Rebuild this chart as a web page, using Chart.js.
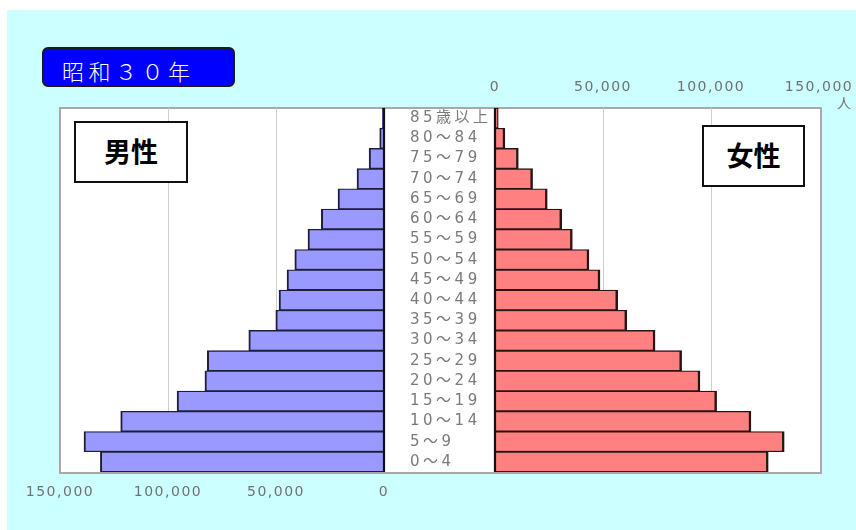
<!DOCTYPE html>
<html lang="ja">
<head>
<meta charset="utf-8">
<script src="https://cdn.jsdelivr.net/npm/chart.js@4/dist/chart.umd.min.js"></script>
<style>
  html, body { margin: 0; padding: 0; background: #ffffff; }
  #stage { position: relative; width: 856px; height: 530px; overflow: hidden; background: #ffffff; }
  #panel { position: absolute; left: 7px; top: 10px; width: 849px; height: 520px; background: #ccffff; }
  #plotbg { position: absolute; left: 59px; top: 107px; width: 763px; height: 367px; box-sizing: border-box;
            background: #ffffff; border: 2px solid #a8a8a8; }
  canvas { position: absolute; }
  #maleWrap { position: absolute; left: 0; top: 100px; width: 400px; height: 412px; }
  #femaleWrap { position: absolute; left: 380px; top: 60px; width: 476px; height: 416px; }
  #title { position: absolute; left: 42px; top: 47px; width: 193px; height: 40px; box-sizing: border-box;
           background: #0000ff; border: 2px solid #1a1a1a; border-radius: 6px; color: #ffffff;
           font: 300 22px "Noto Sans CJK JP", sans-serif; letter-spacing: 4.5px; line-height: 36px;
           padding-left: 18px; padding-top: 3px; }
  .sexbox { position: absolute; box-sizing: border-box; background: #ffffff; border: 2px solid #111111;
            font: 700 27px "Noto Sans CJK JP", sans-serif; color: #000000; text-align: center; }
  #maleBox { left: 74px; top: 121px; width: 114px; height: 62px; line-height: 56px; }
  #femaleBox { left: 702px; top: 125px; width: 103px; height: 62px; line-height: 56px; }
  #unit { position: absolute; left: 837px; top: 92px; font: 14px "Noto Sans CJK JP", sans-serif; color: #777777; }
</style>
</head>
<body>
<div id="stage">
  <div id="panel"></div>
  <div id="plotbg"></div>
  <div id="maleWrap"><canvas id="male" width="400" height="412"></canvas></div>
  <div id="femaleWrap"><canvas id="female" width="476" height="416"></canvas></div>
  <div id="title">昭和３０年</div>
  <div id="maleBox" class="sexbox">男性</div>
  <div id="femaleBox" class="sexbox">女性</div>
  <div id="unit">人</div>
</div>
<script>
// 年齢階級（上から高齢順）
const ageGroups = ['85歳以上', '80～84', '75～79', '70～74', '65～69', '60～64', '55～59', '50～54', '45～49',
                   '40～44', '35～39', '30～34', '25～29', '20～24', '15～19', '10～14', '5～9', '0～4'];
// 男性人口（人）
const malePop = [800, 2000, 6900, 12500, 21300, 29000, 35200, 41300, 44900,
                 48600, 50100, 62600, 81800, 82900, 95800, 121900, 138900, 131300];
// 女性人口（人）
const femalePop = [1500, 4600, 10800, 17400, 24200, 30900, 35800, 43500, 48600,
                   56800, 61000, 74100, 86400, 94900, 102600, 118500, 133900, 126500];
// 目盛り
const axisTicks = [0, 50000, 100000, 150000];
const axisMax = 150000;

const numFont = { family: '"DejaVu Sans", "Noto Sans CJK JP", sans-serif', size: 14 };
const labelFont = { family: '"DejaVu Sans", "Noto Sans CJK JP", sans-serif', size: 15 };

function gridColor(ctx) {
  const v = ctx.tick ? ctx.tick.value : null;
  return (v === 50000 || v === 100000) ? '#cfcfcf' : 'rgba(0,0,0,0)';
}

function fmt(v) { return Number(v).toLocaleString('en-US'); }

// 横軸：目盛りラベルのはみ出しで描画領域を縮めない
function fixXAxis(height) {
  return function (s) {
    s.height = height;
    s.paddingLeft = 0;
    s.paddingRight = 0;
  };
}

// 文字間隔：数値目盛りと年齢ラベルで別々に設定
const spacingPlugin = {
  id: 'spacing',
  beforeLayout(chart) { chart.ctx.letterSpacing = '1.5px'; },
  beforeDraw(chart) { chart.ctx.letterSpacing = '1.5px'; },
  afterDatasetsDraw(chart) {
    // 0 の位置の軸線
    const ctx = chart.ctx, x = chart.scales.x.getPixelForValue(0), a = chart.chartArea;
    ctx.save();
    ctx.strokeStyle = '#111111';
    ctx.lineWidth = 2.2;
    ctx.beginPath();
    ctx.moveTo(x, a.top);
    ctx.lineTo(x, a.bottom);
    ctx.stroke();
    ctx.restore();
    ctx.letterSpacing = '3.5px';
  }
};

new Chart(document.getElementById('male'), {
  type: 'bar',
  data: {
    labels: ageGroups,
    datasets: [{
      data: malePop,
      backgroundColor: '#9999ff',
      borderColor: '#1e1e38',
      borderWidth: { top: 1.3, bottom: 1.3, left: 2, right: 0 },
      borderSkipped: false,
      categoryPercentage: 1,
      barPercentage: 1
    }]
  },
  options: {
    indexAxis: 'y',
    responsive: false,
    animation: false,
    layout: { padding: { left: 60, right: 16, top: 8, bottom: 0 } },
    plugins: { legend: { display: false }, tooltip: { enabled: false } },
    scales: {
      x: {
        position: 'bottom', reverse: true, min: 0, max: axisMax,
        afterBuildTicks(s) { s.ticks = axisTicks.map(v => ({ value: v })); },
        afterFit: fixXAxis(40),
        grid: { color: gridColor, drawTicks: false, lineWidth: 1 },
        border: { display: false },
        ticks: { padding: 12, color: '#707070', font: numFont, maxRotation: 0, callback: v => fmt(v) }
      },
      y: { display: false }
    }
  },
  plugins: [spacingPlugin]
});

new Chart(document.getElementById('female'), {
  type: 'bar',
  data: {
    labels: ageGroups,
    datasets: [{
      data: femalePop,
      backgroundColor: '#ff8080',
      borderColor: '#2a1414',
      borderWidth: { top: 1.3, bottom: 1.3, left: 0, right: 2.5 },
      borderSkipped: false,
      categoryPercentage: 1,
      barPercentage: 1
    }]
  },
  options: {
    indexAxis: 'y',
    responsive: false,
    animation: false,
    layout: { padding: { left: 30, right: 37, top: 0, bottom: 4 } },
    plugins: { legend: { display: false }, tooltip: { enabled: false } },
    scales: {
      x: {
        position: 'top', min: 0, max: axisMax,
        afterBuildTicks(s) { s.ticks = axisTicks.map(v => ({ value: v })); },
        afterFit: fixXAxis(48),
        grid: { color: gridColor, drawTicks: false, lineWidth: 1 },
        border: { display: false },
        ticks: { padding: 12, color: '#707070', font: numFont, maxRotation: 0, callback: v => fmt(v) }
      },
      y: {
        position: 'left',
        afterFit(s) { s.width = 85; s.paddingTop = 0; s.paddingBottom = 0; },
        grid: { display: false, drawTicks: false },
        border: { display: false },
        ticks: { crossAlign: 'far', padding: 0, z: 1, color: '#7a7a7a', font: labelFont, autoSkip: false }
      }
    }
  },
  plugins: [spacingPlugin]
});
</script>
</body>
</html>
